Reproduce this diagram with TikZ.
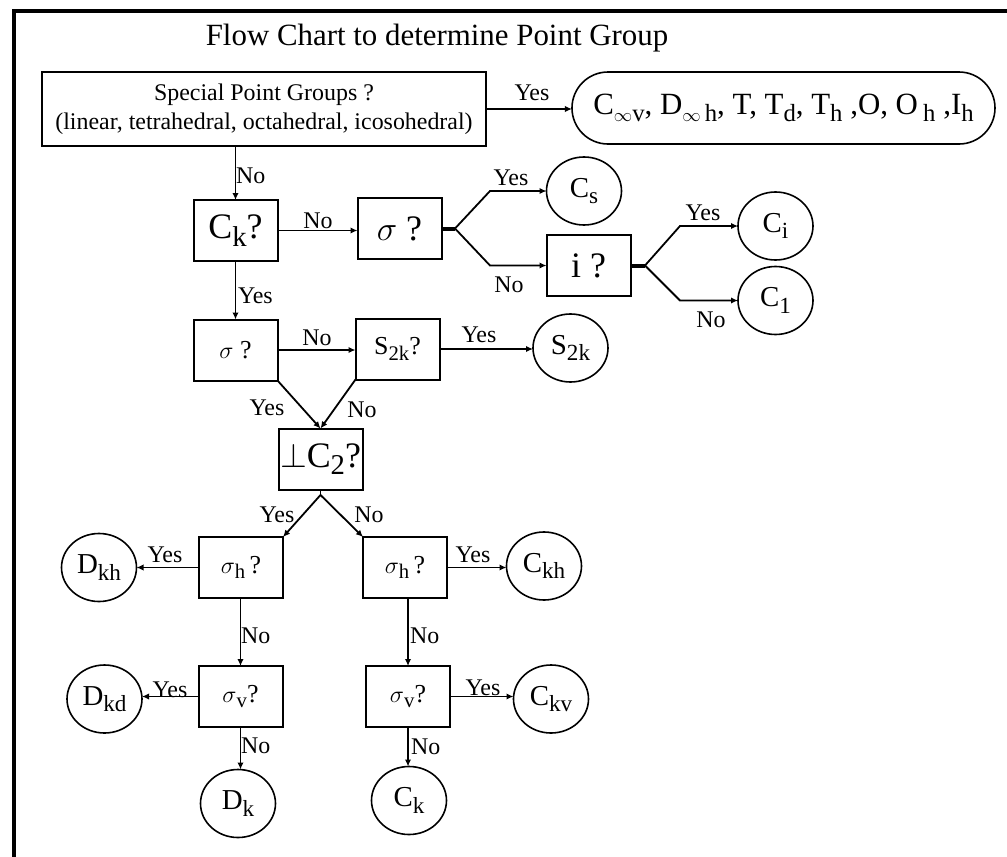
\documentclass[tikz,border=0pt]{standalone}
\usepackage{fontspec}
\setmainfont{Liberation Serif}
\usetikzlibrary{shapes.geometric,arrows.meta}
% lowered, slightly smaller index letters
\newcommand\lo[1]{\raisebox{-0.22em}{\scalebox{0.8}{#1}}}
\newcommand\inftysub{\scalebox{0.8}{$\infty$}}
\begin{document}
\begin{tikzpicture}[x=0.5bp,y=-0.5bp,
  every node/.style={inner sep=0pt,outer sep=0pt},
  qbox/.style={draw,line width=1bp,rectangle,minimum width=42bp,minimum height=30.5bp},
  bigq/.style={qbox,font=\fontsize{18}{20}\selectfont},
  smallq/.style={qbox,font=\fontsize{13}{15}\selectfont},
  grp/.style={draw,line width=0.8bp,ellipse,minimum width=37.5bp,minimum height=34bp,font=\fontsize{14.5}{16}\selectfont},
  lbl/.style={font=\fontsize{12}{14}\selectfont,anchor=base},
  lblw/.style={lbl,anchor=base west},
  link/.style={line width=0.9bp,-{Latex[length=3.5bp,width=3.2bp]}},
  wire/.style={line width=0.9bp},
  stub/.style={line width=2bp}]

\useasboundingbox (0,0) rectangle (1007,857);
\fill[white] (0,0) rectangle (1007,857);

% outer frame
\draw[line width=1.75bp] (14,857) -- (14,11) -- (1007,11);

% title
\node[font=\fontsize{15.5}{18}\selectfont,anchor=base] (title) at (437,45) {Flow Chart to determine Point Group};

% first question and the special groups
\node[draw,line width=1bp,minimum width=222bp,minimum height=37bp,align=center,
      font=\fontsize{12}{14.5}\selectfont] (special) at (264,109)
      {Special Point Groups ?\\(linear, tetrahedral, octahedral, icosohedral)};
\node[draw,line width=0.8bp,rounded corners=18bp,minimum width=211.5bp,minimum height=36bp,
      font=\fontsize{15.5}{18}\selectfont] (groups) at (783.5,108)
      {C\lo{\inftysub v}, D\lo{\inftysub\,h}, T, T\lo{d}, T\lo{h} ,O, O\,\lo{h} ,I\lo{h}\hspace{14bp}};

% question boxes
\node[bigq] (ck) at (235.5,230.5) {C\lo{k}?};
\node[bigq] (sigone) at (399.5,228.5) {$\sigma$ ?};
\node[bigq] (iq) at (588.5,265.5) {i ?};
\node[smallq] (sigtwo) at (235.5,350) {$\sigma$ ?};
\node[smallq] (stwok) at (397.5,349) {S\lo{2k}?};
\node[bigq] (perp) at (320.5,459) {$\perp$C\lo{2}?};
\node[smallq] (sighl) at (241,567.5) {$\sigma$\lo{h}\,?};
\node[smallq] (sighr) at (405,567.5) {$\sigma$\lo{h}\,?};
\node[smallq] (sigvl) at (240.5,696.5) {$\sigma$\lo{v}?};
\node[smallq] (sigvr) at (408,696.5) {$\sigma$\lo{v}?};

% resulting point groups
\node[grp] (cs) at (584,191) {C\lo{s}};
\node[grp] (ci) at (775.5,226) {C\lo{i}};
\node[grp] (cone) at (775.5,300.5) {C\lo{1}};
\node[grp] (stwokc) at (570.5,348) {S\lo{2k}};
\node[grp] (dkh) at (99,567.5) {D\lo{kh}};
\node[grp] (ckh) at (544,566) {C\lo{kh}};
\node[grp] (dkd) at (104.5,699) {D\lo{kd}};
\node[grp] (ckv) at (551,699) {C\lo{kv}};
\node[grp] (dk) at (238,803.5) {D\lo{k}};
\node[grp] (ckc) at (409,800.5) {C\lo{k}};

% branch points
\coordinate (bone) at (455,228.5);
\coordinate (eup) at (490,191);
\coordinate (edown) at (490,265.5);
\coordinate (btwo) at (645,265.5);
\coordinate (fup) at (680,226);
\coordinate (fdown) at (680,300.5);
\coordinate (bthree) at (320.5,495);

% connectors
\draw[link] (special.east) -- (special.east -| groups.west);
\draw[link] (ck.north |- special.south) -- (ck.north);
\draw[link] (ck.east) -- (ck.east -| sigone.west);
\draw[stub] (sigone.east) -- (bone);
\draw[link] (bone) -- (eup) -- (cs.west);
\draw[link] (bone) -- (edown) -- (iq.west);
\draw[stub] (iq.east) -- (btwo);
\draw[link] (btwo) -- (fup) -- (ci.west);
\draw[link] (btwo) -- (fdown) -- (cone.west);
\draw[link] (ck.south) -- (sigtwo.north);
\draw[link] (sigtwo.east) -- (sigtwo.east -| stwok.west);
\draw[link] (stwok.east) -- (stwok.east -| stwokc.west);
\draw[link] (sigtwo.south east) -- (perp.north);
\draw[link] (stwok.south west) -- (perp.north);
\draw[wire] (perp.south) -- (bthree);
\draw[link] (bthree) -- (sighl.north east);
\draw[link] (bthree) -- (sighr.north west);
\draw[link] (sighl.west) -- (sighl.west -| dkh.east);
\draw[link] (sighr.east) -- (sighr.east -| ckh.west);
\draw[link] (sigvl.north |- sighl.south) -- (sigvl.north);
\draw[link] (sigvr.north |- sighr.south) -- (sigvr.north);
\draw[link] (sigvl.west) -- (sigvl.west -| dkd.east);
\draw[link] (sigvr.east) -- (sigvr.east -| ckv.west);
\draw[link] (sigvl.south) -- (sigvl.south |- dk.north);
\draw[link] (sigvr.south) -- (sigvr.south |- ckc.north);

% answer labels
\node[lbl] (ya) at (532,100) {Yes};
\node[lblw] (na) at (236,183) {No};
\node[lbl] (nb) at (318,228) {No};
\node[lbl] (yb) at (511,185) {Yes};
\node[lbl] (nc) at (509,292) {No};
\node[lbl] (yc) at (703,220) {Yes};
\node[lbl] (nd) at (711,327) {No};
\node[lblw] (yd) at (238,303) {Yes};
\node[lbl] (ne) at (317,345) {No};
\node[lbl] (ye) at (479,342) {Yes};
\node[lbl] (yf) at (267,415) {Yes};
\node[lbl] (nf) at (362,417) {No};
\node[lbl] (yg) at (277,522) {Yes};
\node[lbl] (ng) at (369,522) {No};
\node[lbl] (yh) at (165,562) {Yes};
\node[lbl] (yi) at (473,562) {Yes};
\node[lblw] (nh) at (241,643) {No};
\node[lblw] (ni) at (410,643) {No};
\node[lbl] (yj) at (170,697) {Yes};
\node[lbl] (yk) at (483,695) {Yes};
\node[lblw] (nj) at (241,753) {No};
\node[lblw] (nk) at (411,754) {No};
\end{tikzpicture}
\end{document}
